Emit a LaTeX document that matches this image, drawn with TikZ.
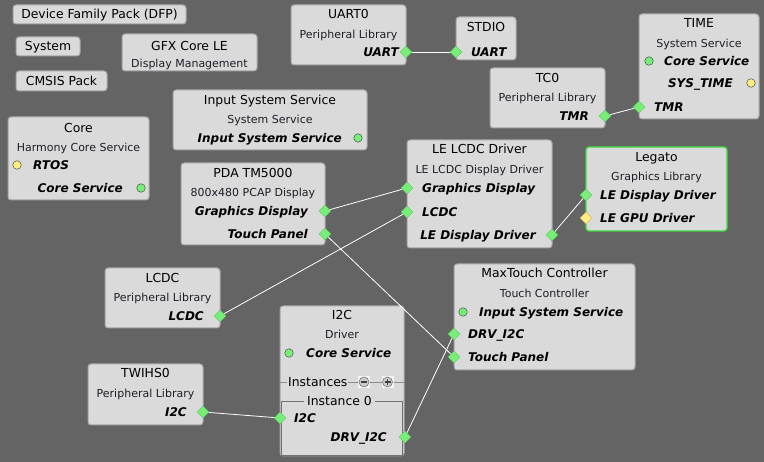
\documentclass[tikz,border=0pt]{standalone}
\usepackage{fontspec}
\setmainfont{DejaVu Sans}
\usetikzlibrary{shapes.geometric}
\definecolor{bgc}{RGB}{100,100,100}
\definecolor{boxc}{RGB}{218,218,218}
\definecolor{boxb}{RGB}{165,165,165}
\definecolor{pgreen}{RGB}{120,238,120}
\definecolor{pgreenb}{RGB}{90,200,90}
\definecolor{pyellow}{RGB}{255,236,130}
\definecolor{pyellowb}{RGB}{200,180,80}
\definecolor{lgreen}{RGB}{60,220,60}
\definecolor{subc}{RGB}{30,30,40}
\pgfdeclarelayer{bglayer}
\pgfdeclarelayer{boxlayer}
\pgfdeclarelayer{linelayer}
\pgfsetlayers{bglayer,boxlayer,linelayer,main}
\tikzset{
  blk/.style={draw=boxb, fill=boxc, rounded corners=3pt, line width=1pt},
  ttl/.style={font=\fontsize{12.4}{14}\selectfont, inner sep=0, anchor=mid, yshift=-1.5pt},
  sub/.style={font=\fontsize{11}{13}\selectfont, text=subc, inner sep=0, anchor=mid, yshift=-1.5pt},
  prt/.style={font=\fontsize{12}{14}\selectfont\bfseries\itshape, inner sep=0, yshift=-1.5pt},
  prtl/.style={prt, anchor=mid west},
  prtr/.style={prt, anchor=mid east},
  pd/.style={diamond, aspect=1, minimum width=12pt, minimum height=12pt, inner sep=0, fill=pgreen, draw=pgreenb, line width=0.4pt},
  pdy/.style={pd, fill=pyellow, draw=pyellowb},
  pc/.style={circle, minimum size=8.5pt, inner sep=0, fill=pgreen, draw=black!70, line width=0.5pt},
  pcy/.style={pc, fill=pyellow},
  conn/.style={draw=white, line width=0.8pt},
  btn/.style={rectangle, minimum size=12pt, inner sep=0, fill=black!4},
}
\begin{document}
\begin{tikzpicture}[x=1pt,y=-1pt]
\begin{pgfonlayer}{bglayer}
\fill[bgc] (0,0) rectangle (764,462);
\end{pgfonlayer}
\useasboundingbox (0,0) rectangle (764,462);

\begin{pgfonlayer}{boxlayer}
  \draw[blk] (13,5) rectangle (186,24);
  \draw[blk] (16,37) rectangle (80,56);
  \draw[blk] (16,71) rectangle (107,91);
  \draw[blk] (122,34) rectangle (257,71);
  \draw[blk] (291,5) rectangle (406,65);
  \draw[blk] (456,17) rectangle (516,60);
  \draw[blk] (639,14) rectangle (759,119);
  \draw[blk] (490,68) rectangle (605,128);
  \draw[blk] (8,117) rectangle (149,200);
  \draw[blk] (173,90) rectangle (367,150);
  \draw[blk] (181,163) rectangle (325,245);
  \draw[blk] (407,140) rectangle (552,248);
  \draw[blk, draw=lgreen, line width=1.3pt] (586,147) rectangle (727,231);
  \draw[blk] (105,268) rectangle (220,328);
  \draw[blk] (280,306) rectangle (404,456);
  \draw[blk] (454,264) rectangle (635,370);
  \draw[blk] (88,364) rectangle (203,425);
\end{pgfonlayer}

% plain boxes
\node[ttl] (tdfp) at (99.5,14.5) {Device Family Pack (DFP)};
\node[ttl] (tsys) at (48,46.5) {System};
\node[ttl] (tcms) at (61.5,81) {CMSIS Pack};
\node[ttl] (tgfx) at (189.5,46) {GFX Core LE};
\node[sub] (sgfx) at (189.5,63) {Display Management};

% UART0
\node[ttl] (tuart) at (348.5,14) {UART0};
\node[sub] (suart) at (348.5,34) {Peripheral Library};
\node[prtr] (luart) at (399,52) {UART};
\node[pd] (puart) at (406,52) {};
% STDIO
\node[ttl] (tstd) at (486,27) {STDIO};
\node[prtl] (lstd) at (471,52) {UART};
\node[pd] (pstd) at (456,52) {};
% TIME
\node[ttl] (ttime) at (699,23) {TIME};
\node[sub] (stime) at (699,43) {System Service};
\node[pc] (ctime) at (649,61) {};
\node[prtl] (ltcs) at (664,61) {Core Service};
\node[prtr] (ltst) at (733,83) {SYS\_TIME};
\node[pcy] (ctst) at (751,83) {};
\node[prtl] (lttmr) at (654,107) {TMR};
\node[pd] (pttmr) at (639,107) {};
% TC0
\node[ttl] (ttc) at (547.5,78) {TC0};
\node[sub] (stc) at (547.5,97) {Peripheral Library};
\node[prtr] (ltc) at (589,116) {TMR};
\node[pd] (ptc) at (605,116) {};
% Core
\node[ttl] (tcore) at (78.5,128) {Core};
\node[sub] (score) at (78.5,147) {Harmony Core Service};
\node[pcy] (crtos) at (17,165) {};
\node[prtl] (lrtos) at (33,165) {RTOS};
\node[prtr] (lcore) at (123,188) {Core Service};
\node[pc] (ccore) at (141,188) {};
% Input System Service
\node[ttl] (tiss) at (270,100) {Input System Service};
\node[sub] (siss) at (270,119) {System Service};
\node[prtr] (liss) at (342,138) {Input System Service};
\node[pc] (ciss) at (358,138) {};
% PDA
\node[ttl] (tpda) at (253,173) {PDA TM5000};
\node[sub] (spda) at (253,192) {800x480 PCAP Display};
\node[prtr] (lpgd) at (308,211) {Graphics Display};
\node[prtr] (lptp) at (308,234) {Touch Panel};
\node[pd] (ppgd) at (325,211) {};
\node[pd] (pptp) at (325,234) {};
% LE LCDC Driver
\node[ttl] (tle) at (479.5,149) {LE LCDC Driver};
\node[sub] (sle) at (479.5,169) {LE LCDC Display Driver};
\node[prtl] (llgd) at (422,188) {Graphics Display};
\node[prtl] (lllc) at (422,212) {LCDC};
\node[prtr] (llld) at (536,235) {LE Display Driver};
\node[pd] (plgd) at (407,188) {};
\node[pd] (pllc) at (407,212) {};
\node[pd] (plld) at (552,235) {};
% Legato
\node[ttl] (tleg) at (656.5,157) {Legato};
\node[sub] (sleg) at (656.5,176) {Graphics Library};
\node[prtl] (lgdd) at (600,195) {LE Display Driver};
\node[prtl] (lggp) at (600,218) {LE GPU Driver};
\node[pd] (pgdd) at (586,195) {};
\node[pdy] (pggp) at (586,218) {};
% LCDC
\node[ttl] (tlcdc) at (162.5,278) {LCDC};
\node[sub] (slcdc) at (162.5,297) {Peripheral Library};
\node[prtr] (llcdc) at (204,316) {LCDC};
\node[pd] (plcdc) at (220,316) {};
% I2C
\node[ttl] (ti2c) at (342,315) {I2C};
\node[sub] (si2c) at (342,334) {Driver};
\node[pc] (ci2c) at (289,353) {};
\node[prtl] (li2ccs) at (306,353) {Core Service};
\draw[draw=black!45, line width=0.8pt] (280,382) -- (404,382);
\node[ttl, anchor=mid west, fill=boxc, inner xsep=1pt] (tinst) at (287,382) {Instances};
\node[btn] (bmin) at (364,382) {};
\node[btn] (bplu) at (387.5,382) {};
\draw[fill=black!20, draw=black!55, line width=0.6pt] (bmin.center) circle (5);
\draw[fill=black!20, draw=black!55, line width=0.6pt] (bplu.center) circle (5);
\draw[black!75, line width=1.2pt] ([xshift=-3pt]bmin.center) -- ([xshift=3pt]bmin.center);
\draw[black!75, line width=1.2pt] ([xshift=-3pt]bplu.center) -- ([xshift=3pt]bplu.center);
\draw[black!75, line width=1.2pt] ([yshift=-3pt]bplu.center) -- ([yshift=3pt]bplu.center);
\draw[draw=black!55, line width=0.8pt] (281.5,401) rectangle (402.5,455);
\node[ttl, fill=boxc, inner xsep=3pt, inner ysep=1pt] (tinst0) at (339.5,401) {Instance 0};
\node[prtl] (li2c) at (294,418) {I2C};
\node[prtr] (ldrv) at (387,437) {DRV\_I2C};
\node[pd] (pi2c) at (280,418) {};
\node[pd] (pdrv) at (405,437) {};
% MaxTouch
\node[ttl] (tmax) at (544.5,273) {MaxTouch Controller};
\node[sub] (smax) at (544.5,293) {Touch Controller};
\node[pc] (cmax) at (463,312) {};
\node[prtl] (lmiss) at (479,312) {Input System Service};
\node[prtl] (lmdrv) at (468,334) {DRV\_I2C};
\node[prtl] (lmtp) at (468,357) {Touch Panel};
\node[pd] (pmdrv) at (454,334) {};
\node[pd] (pmtp) at (454,357) {};
% TWIHS0
\node[ttl] (ttwi) at (145.5,373) {TWIHS0};
\node[sub] (stwi) at (145.5,393) {Peripheral Library};
\node[prtr] (ltwi) at (187,412) {I2C};
\node[pd] (ptwi) at (203,412) {};

\begin{pgfonlayer}{linelayer}
  \draw[conn] (puart.center) -- (pstd.center);
  \draw[conn] (ptc.center) -- (pttmr.center);
  \draw[conn] (ppgd.center) -- (plgd.center);
  \draw[conn] (pptp.center) -- (pmtp.center);
  \draw[conn] (plcdc.center) -- (pllc.center);
  \draw[conn] (plld.center) -- (pgdd.center);
  \draw[conn] (ptwi.center) -- (pi2c.center);
  \draw[conn] (pdrv.center) -- (pmdrv.center);
\end{pgfonlayer}
\end{tikzpicture}
\end{document}
